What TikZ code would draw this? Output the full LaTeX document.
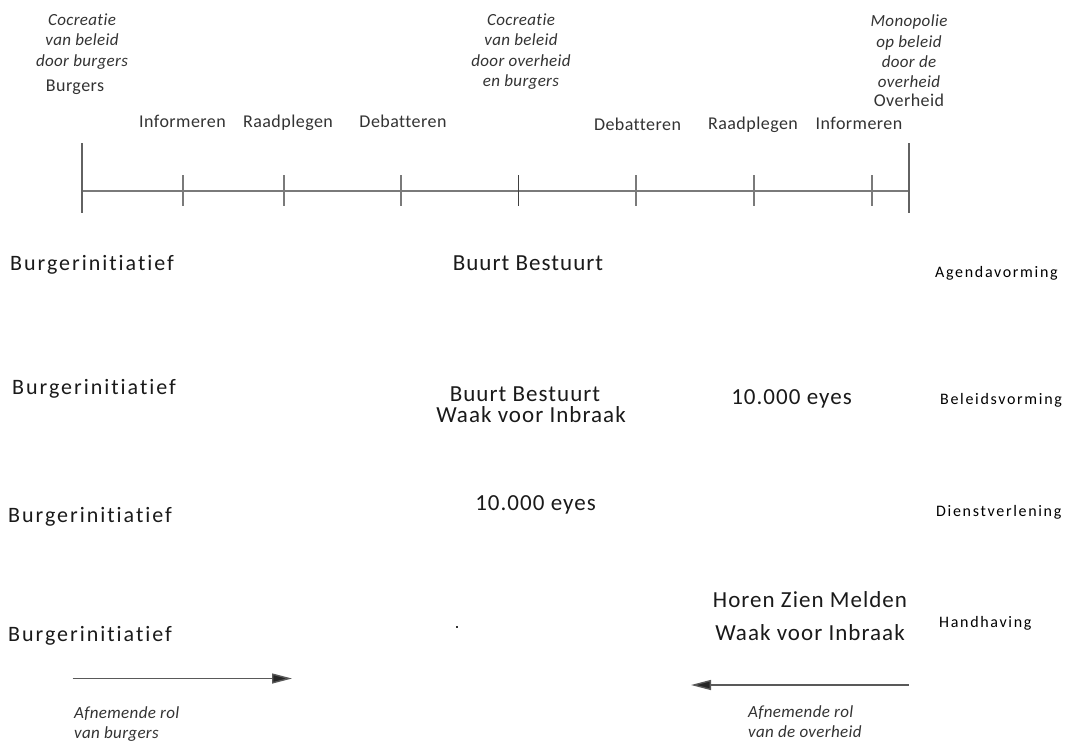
\documentclass[tikz,border=0pt]{standalone}
\usepackage{fontspec}
\setmainfont{Carlito}
\newfontfamily\rowfont[LetterSpace=4.5,Ligatures=NoCommon]{Carlito}
\newfontfamily\burgfont[LetterSpace=9,Ligatures=NoCommon]{Carlito}
\newfontfamily\colfont[LetterSpace=10.5,Ligatures=NoCommon]{Carlito}
\newfontfamily\topfont[LetterSpace=2.5,Ligatures=NoCommon]{Carlito}
\newfontfamily\itfont[LetterSpace=2,Ligatures=NoCommon]{Carlito}
\usetikzlibrary{arrows.meta}
\definecolor{topgray}{HTML}{333333}
\definecolor{axisgray}{HTML}{7A7A7A}
\definecolor{txt}{HTML}{1A1A1A}
\tikzset{
  rowtxt/.style={inner sep=0pt, anchor=base, text=txt, font=\rowfont\fontsize{23}{27}\selectfont},
  burgtxt/.style={inner sep=0pt, anchor=base west, text=txt, font=\burgfont\fontsize{22}{26}\selectfont},
  coltxt/.style={inner sep=0pt, anchor=base west, text=black, font=\colfont\fontsize{16}{19}\selectfont},
  toptxt/.style={inner sep=0pt, anchor=base, text=topgray, font=\topfont\fontsize{18}{21}\selectfont},
  ittxt/.style={inner sep=0pt, align=center, text=topgray, font=\itfont\itshape\fontsize{17}{20.4}\selectfont},
  axisline/.style={draw=axisgray, line width=1.3pt},
  bigtick/.style={draw=axisgray!80!black, line width=1.4pt},
  smalltick/.style={draw=axisgray, line width=1.2pt},
  roleline/.style={draw=black!65, line width=1.4pt, -{Triangle[length=20pt,width=10pt,fill=black!85]}}
}
\begin{document}
\begin{tikzpicture}[x=1pt,y=-1pt]
\useasboundingbox[fill=white] (0,0) rectangle (1069,742);

% top italic headings
\node[ittxt] (hleft) at (82,41.5) {Cocreatie\\van beleid\\door burgers};
\node[toptxt] (burgers) at (75,91) {Burgers};
\node[ittxt] (hmid) at (521,51.5) {Cocreatie\\van beleid\\door overheid\\en burgers};
\node[ittxt] (hright) at (909,51.5) {Monopolie\\op beleid\\door de\\overheid};
\node[toptxt] (overheid) at (909,106.5) {Overheid};

% scale labels
\node[toptxt] (inf1) at (182.5,127) {Informeren};
\node[toptxt] (raad1) at (288,127) {Raadplegen};
\node[toptxt] (deb1) at (403,127.5) {Debatteren};
\node[toptxt] (deb2) at (637.5,130) {Debatteren};
\node[toptxt] (raad2) at (753,129.5) {Raadplegen};
\node[toptxt] (inf2) at (859,129.5) {Informeren};

% axis
\coordinate (a0) at (82,191);
\coordinate (a8) at (909,191);
\draw[axisline] (a0) -- (a8);
\draw[bigtick] (82,143) -- (82,213);
\draw[bigtick] (909,143) -- (909,213);
\foreach \x in {183,284,401,636,754,872}{
  \draw[smalltick] (\x,175) -- (\x,206);
}
\draw[draw=black!75, line width=1.3pt] (518.5,175) -- (518.5,206);

% rows
\node[burgtxt] (b1) at (10,270) {Burgerinitiatief};
\node[rowtxt] (bb1) at (528,270) {Buurt Bestuurt};
\node[coltxt] (agenda) at (935,277.5) {Agendavorming};

\node[burgtxt] (b2) at (12,394) {Burgerinitiatief};
\node[rowtxt] (bb2) at (525,401) {Buurt Bestuurt};
\node[rowtxt] (wvi1) at (531,422) {Waak voor Inbraak};
\node[rowtxt] (eyes1) at (791.5,404) {10.000 eyes};
\node[coltxt] (beleid) at (940,404) {Beleidsvorming};

\node[burgtxt] (b3) at (8,522.5) {Burgerinitiatief};
\node[rowtxt] (eyes2) at (535.5,510.5) {10.000 eyes};
\node[coltxt] (dienst) at (936,516) {Dienstverlening};

\node[burgtxt] (b4) at (8,641.5) {Burgerinitiatief};
\node[rowtxt] (hzm) at (810,607.5) {Horen Zien Melden};
\node[rowtxt] (wvi2) at (810,640.5) {Waak voor Inbraak};
\node[coltxt] (handh) at (939,627) {Handhaving};

\fill[black!80] (455.8,625.8) rectangle (458.2,628.2);

% role arrows
\coordinate (l0) at (72.5,678.5);
\coordinate (l1) at (292,678.5);
\coordinate (r0) at (908.5,685);
\coordinate (r1) at (691,685);
\draw[roleline] (l0) -- (l1);
\draw[roleline] (r0) -- (r1);

\node[ittxt, align=left, anchor=north west] (afb) at (74,706) {Afnemende rol\\van burgers};
\node[ittxt, align=left, anchor=north west] (afo) at (748,705.5) {Afnemende rol\\van de overheid};
\end{tikzpicture}
\end{document}
